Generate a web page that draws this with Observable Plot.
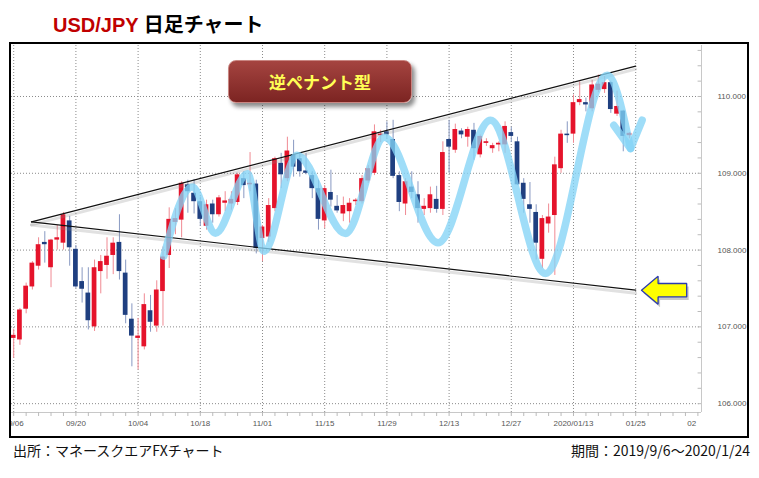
<!DOCTYPE html>
<html><head><meta charset="utf-8">
<script src="https://cdn.jsdelivr.net/npm/d3@7"></script>
<script src="https://cdn.jsdelivr.net/npm/@observablehq/plot@0.6"></script>
<style>
html,body{margin:0;padding:0;background:#fff}
body{width:759px;height:478px;position:relative;overflow:hidden;font-family:"Noto Sans CJK JP","Noto Sans",sans-serif}
#title{position:absolute;left:53px;top:12px;font-size:20px;font-weight:bold;line-height:27px;color:#000;font-family:"Liberation Sans","Noto Sans CJK JP",sans-serif;white-space:nowrap}
#title .pair{color:#c00000}
#chart{position:absolute;left:9px;top:42px;width:740px;height:396px}
#badge{position:absolute;left:228px;top:60px;width:182px;height:41px;border-radius:8px;background:linear-gradient(#a54440,#7c2422);border:1px solid #c98682;box-shadow:3px 4px 4px rgba(0,0,0,0.45);color:#ffff55;font-weight:bold;font-size:17px;line-height:41px;text-align:center;font-family:"Noto Sans CJK JP",sans-serif}
.foot{position:absolute;top:441px;font-size:14px;line-height:19px;color:#111;white-space:nowrap}
#src{left:13px}
#period{right:9px}
</style></head><body>
<div id="title"><span class="pair">USD/JPY</span> 日足チャート</div>
<div id="chart"></div>
<div id="badge">逆ペナント型</div>
<div class="foot" id="src">出所：マネースクエアFXチャート</div>
<div class="foot" id="period">期間：2019/9/6～2020/1/24</div>
<script>
// Daily candles 2019/9/6 .. 2020/1/24 (trading-day index 0..99)
const opens  = [106.85,106.83,107.23,107.52,107.79,108.10,107.77,108.13,108.09,108.38,
                108.01,107.59,107.44,107.00,107.72,107.80,107.93,108.10,107.70,107.10,
                106.85,106.74,107.21,107.01,107.46,107.93,108.36,108.39,108.85,108.74,
                108.63,108.31,108.60,108.46,108.61,108.60,108.62,108.93,108.85,108.86,
                108.15,108.17,108.54,109.13,108.93,109.24,109.19,109.03,108.97,108.80,
                108.38,108.75,108.57,108.47,108.50,108.63,108.63,108.90,109.00,109.49,
                109.54,109.44,108.97,108.60,108.82,108.72,108.53,108.54,108.66,108.53,
                109.44,109.30,109.55,109.47,109.56,109.24,109.39,109.32,109.37,109.37,
                109.53,109.41,108.87,108.59,108.49,107.88,108.34,108.45,109.06,109.51,
                109.51,109.92,109.92,109.84,110.08,110.09,110.18,109.77,109.81,109.49];
const highs  = [106.97,107.24,107.57,107.85,108.16,108.24,108.14,108.32,108.49,108.44,
                108.06,107.77,107.77,107.87,107.93,108.16,108.16,108.46,107.87,107.30,
                107.11,107.43,107.41,107.60,108.04,108.55,108.54,108.89,108.91,108.92,
                108.69,108.65,108.65,108.71,108.76,108.76,109.00,109.02,109.27,108.91,
                108.32,108.67,109.21,109.26,109.47,109.43,109.27,109.26,109.02,108.91,
                108.84,109.04,108.71,108.69,108.67,108.67,108.97,109.10,109.63,109.56,
                109.67,109.69,109.02,108.93,109.02,108.89,108.67,108.82,108.83,109.41,
                109.69,109.64,109.58,109.60,109.65,109.50,109.45,109.39,109.41,109.67,
                109.60,109.47,108.93,108.88,108.59,108.45,108.60,109.21,109.56,109.67,
                110.02,110.19,109.98,110.21,110.28,110.26,110.20,110.07,109.82,109.53];
const lows   = [106.59,106.76,107.17,107.48,107.74,107.83,107.51,108.00,108.00,107.79,
                107.50,107.31,106.96,106.94,107.43,107.62,107.68,107.61,107.04,106.48,
                106.44,106.70,106.93,106.93,107.01,107.76,108.20,108.16,108.48,108.47,
                108.31,108.26,108.35,108.43,108.50,108.52,108.58,108.67,108.76,107.95,
                107.85,108.10,108.50,108.80,108.89,108.95,108.95,108.98,108.67,108.26,
                108.28,108.56,108.48,108.37,108.35,108.58,108.60,108.87,108.97,109.40,
                109.45,108.93,108.50,108.45,108.67,108.35,108.45,108.48,108.48,108.45,
                109.00,109.26,109.45,109.34,109.17,109.20,109.35,109.26,109.28,109.26,
                109.40,108.84,108.48,108.35,107.87,107.76,108.22,107.67,109.00,109.39,
                109.39,109.88,109.80,109.80,110.05,110.04,109.78,109.74,109.28,109.45];
const closes = [106.89,107.22,107.53,107.83,108.07,108.07,108.13,108.16,108.46,108.03,
                107.52,107.49,107.08,107.77,107.85,107.92,108.09,107.72,107.15,106.88,
                106.88,107.29,107.06,107.48,107.91,108.40,108.41,108.87,108.76,108.63,
                108.40,108.59,108.46,108.68,108.64,108.66,108.98,108.84,108.87,108.02,
                108.30,108.58,109.19,108.98,109.29,109.08,109.02,109.00,108.80,108.40,
                108.80,108.65,108.51,108.58,108.61,108.65,108.93,109.06,109.54,109.51,
                109.50,108.96,108.62,108.89,108.75,108.54,108.57,108.72,108.53,109.27,
                109.34,109.57,109.50,109.57,109.32,109.48,109.41,109.36,109.39,109.61,
                109.48,108.85,108.66,108.53,108.09,108.41,108.43,109.11,109.51,109.49,
                109.92,109.96,109.89,110.15,110.16,110.18,109.83,109.87,109.48,109.52];

// Axis ticks
const xTickIdx    = [0,10,20,30,40,50,60,70,80,90,100,109];
const xTickLabels = ["09/06","09/20","10/04","10/18","11/01","11/15","11/29","12/13","12/27","2020/01/13","01/25","02"];
const xGridIdx    = [0,10,20,30,40,50,60,70,80,90,100];
const yTicks      = [106,107,108,109,110];

// Annotations: converging trend lines (reverse pennant)
const upperLineIdx   = [2.86, 100];
const upperLinePrice = [108.367, 110.395];
const lowerLineIdx   = [2.86, 100];
const lowerLinePrice = [108.367, 107.478];
// Light-blue wave
const waveIdx   = [24.13, 28.70, 32.44, 37.59, 40.24, 45.55, 53.34, 59.61, 68.22, 76.66, 85.50, 95.42, 99.17];
const wavePrice = [107.92,108.823,108.22,108.995,107.986,109.236,108.216,109.47,108.096,109.69,107.695,110.277,109.323];
const arrowHeadIdx   = [96.48, 99.17, 101.04];
const arrowHeadPrice = [109.626, 109.323, 109.691];
// Yellow arrow pointing at the lower line
const yArrowIdx   = [100.93, 103.6, 103.6, 108.2, 108.2, 103.6, 103.6, 100.93];
const yArrowPrice = [107.478, 107.66, 107.565, 107.565, 107.39, 107.39, 107.295, 107.478];

const candles = opens.map((o, i) => ({i, o, h: highs[i], l: lows[i], c: closes[i], up: closes[i] >= opens[i]}));
const upC = candles.filter(d => d.up), dnC = candles.filter(d => !d.up);
const pts = (xs, ys) => xs.map((x, k) => ({x, y: ys[k]}));

const xMin = -0.354, xMax = 110.58, yMin = 105.885, yMaxV = 110.664;
const labelMap = new Map(xTickIdx.map((d, k) => [d, xTickLabels[k]]));
const minorY = d3.range(106, 110.61, 0.2);
const minorX = d3.range(0, 111, 2);
const bodyY1 = d => Math.abs(d.c - d.o) < 0.02 ? (d.o + d.c) / 2 - 0.011 : d.o;
const bodyY2 = d => Math.abs(d.c - d.o) < 0.02 ? (d.o + d.c) / 2 + 0.011 : d.c;

const plot = Plot.plot({
  width: 736, height: 392,
  marginLeft: 0, marginRight: 46, marginTop: 1, marginBottom: 24,
  x: {type: "linear", domain: [xMin, xMax], axis: null},
  y: {type: "linear", domain: [yMin, yMaxV], axis: null},
  style: {display: "block", maxWidth: "none", width: "736px", height: "392px", border: "2px solid #000", background: "#fff", overflow: "hidden", fontFamily: "'Liberation Sans', sans-serif", fontSize: "8px"},
  marks: [
    Plot.ruleY(yTicks, {stroke: "#8a8a8a", strokeDasharray: "1,2"}),
    Plot.ruleX(xGridIdx, {stroke: "#8a8a8a", strokeDasharray: "1,2"}),
    Plot.ruleY([yMin], {stroke: "#c8c8c8"}),
    Plot.ruleX([xMax], {stroke: "#c8c8c8"}),
    Plot.ruleY(minorY, {x1: xMax - 0.55, x2: xMax, stroke: "#bbb"}),
    Plot.axisX(minorX, {tickSize: 4, tickFormat: () => "", stroke: "#bbb"}),
    Plot.axisX(xTickIdx, {tickSize: 0, tickPadding: 8, tickFormat: d => labelMap.get(d), fill: "#555", fontSize: 8}),
    Plot.axisY(yTicks, {anchor: "right", tickSize: 0, tickPadding: 16, tickFormat: d3.format(".3f"), fill: "#555", fontSize: 8, textAnchor: "start"}),
    // wicks
    Plot.ruleX(upC, {x: "i", y1: "l", y2: "h", stroke: "#f08a93", strokeWidth: 1}),
    Plot.ruleX(dnC, {x: "i", y1: "l", y2: "h", stroke: "#8899c2", strokeWidth: 1}),
    // bodies
    Plot.rect(upC, {x1: d => d.i - 0.38, x2: d => d.i + 0.38, y1: bodyY1, y2: bodyY2, fill: "#e5132b"}),
    Plot.rect(dnC, {x1: d => d.i - 0.38, x2: d => d.i + 0.38, y1: bodyY1, y2: bodyY2, fill: "#1f3f80"}),
    // trend lines with shadow
    Plot.line(pts(upperLineIdx, upperLinePrice), {x: "x", y: "y", stroke: "#888", strokeOpacity: 0.25, strokeWidth: 3, dy: 3}),
    Plot.line(pts(lowerLineIdx, lowerLinePrice), {x: "x", y: "y", stroke: "#888", strokeOpacity: 0.25, strokeWidth: 3, dy: 3}),
    Plot.line(pts(upperLineIdx, upperLinePrice), {x: "x", y: "y", stroke: "#111", strokeWidth: 1.2}),
    Plot.line(pts(lowerLineIdx, lowerLinePrice), {x: "x", y: "y", stroke: "#111", strokeWidth: 1.2}),
    // wave
    Plot.line(pts(waveIdx, wavePrice), {x: "x", y: "y", curve: "monotone-x", stroke: "#84d4f6", strokeOpacity: 0.78, strokeWidth: 7.5, strokeLinecap: "round"}),
    Plot.line(pts(arrowHeadIdx, arrowHeadPrice), {x: "x", y: "y", stroke: "#84d4f6", strokeOpacity: 0.78, strokeWidth: 7.5, strokeLinecap: "round", strokeLinejoin: "round"}),
    // yellow arrow
    Plot.line(pts(yArrowIdx, yArrowPrice), {x: "x", y: "y", fill: "#777", fillOpacity: 0.4, stroke: "none", dx: 2, dy: 3}),
    Plot.line(pts(yArrowIdx, yArrowPrice), {x: "x", y: "y", fill: "#ffff00", stroke: "#2b3bb0", strokeWidth: 1.3, strokeLinejoin: "miter"})
  ]
});
document.getElementById("chart").appendChild(plot);
</script>
</body></html>
